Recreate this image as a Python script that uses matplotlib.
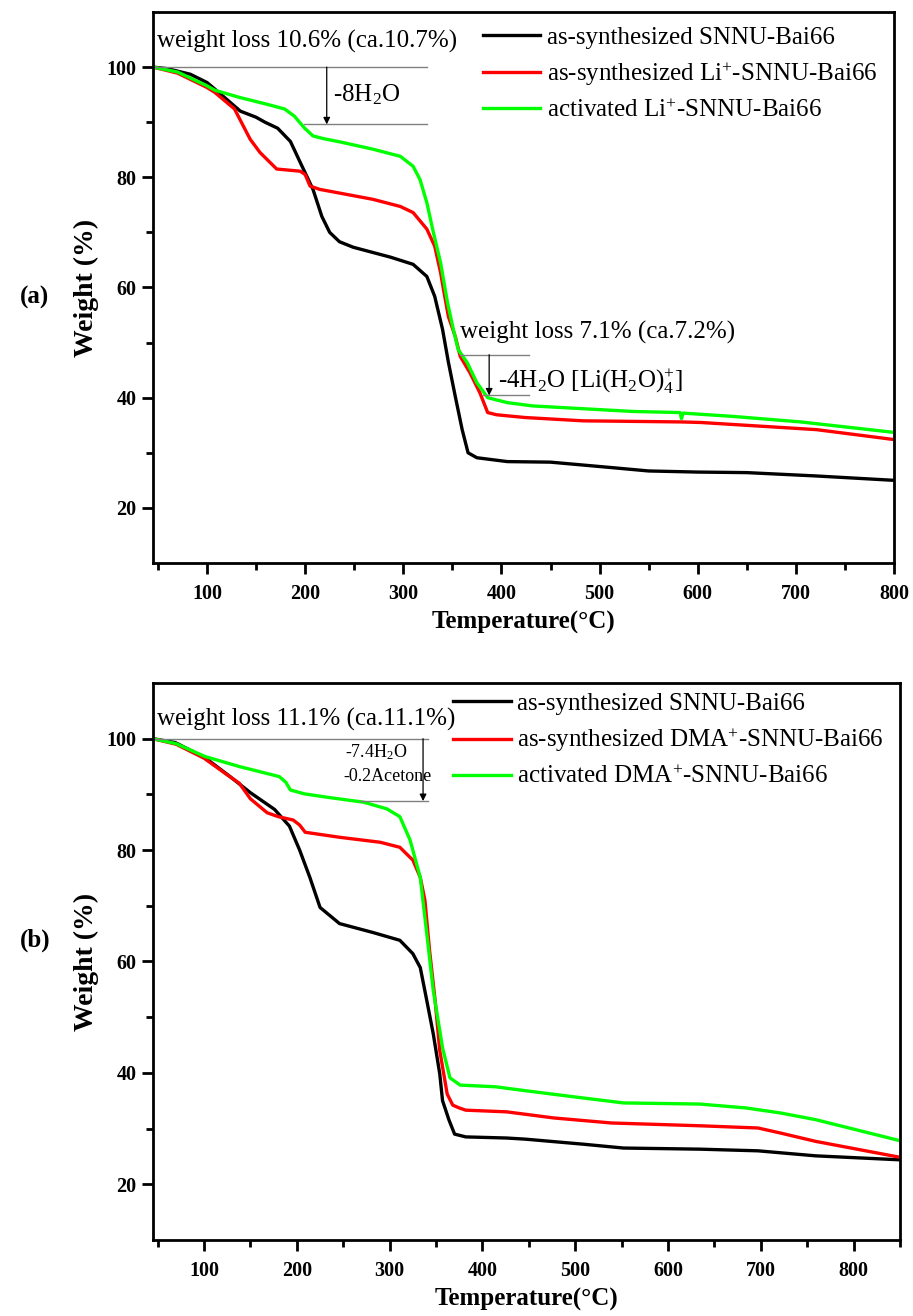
"""
TGA curves of SNNU-Bai66 samples, (a) Li+ exchange and (b) DMA+ exchange.
"""

import matplotlib
matplotlib.use('Agg')
import matplotlib.pyplot as plt

plt.rcParams['font.family'] = ['Liberation Serif', 'DejaVu Serif']
plt.rcParams['mathtext.fontset'] = 'custom'
plt.rcParams['mathtext.rm'] = 'Liberation Serif'
plt.rcParams['mathtext.default'] = 'regular'

# ---- panel (a) data (T in degC, weight in %) ----
A_BLACK_T = [45, 60, 83, 100, 108, 134, 150, 159, 172, 185, 195, 208, 217, 225, 235, 249, 287, 310,
             324, 332, 340, 346, 353, 360, 366, 375, 406, 450, 513, 550, 600, 650, 720, 800]
A_BLACK_W = [100, 99.7, 98.7, 97.2, 96.0, 92.0, 90.9, 90.0, 88.9, 86.5, 82.7, 77.8, 72.9, 70.0, 68.3,
             67.3, 65.5, 64.2, 62.0, 58.4, 52.4, 46.4, 40.2, 34.2, 30.0, 29.1, 28.4, 28.3, 27.3,
             26.7, 26.5, 26.4, 25.8, 25.0]

A_RED_T = [45, 70, 100, 108, 128, 144, 154, 171, 195, 200, 205, 215, 269, 297, 310, 324, 332,
           338, 341, 346, 353, 358, 368, 378, 386, 395, 424, 483, 583, 603, 721, 800]
A_RED_W = [100, 98.9, 96.3, 95.4, 92.4, 86.9, 84.5, 81.5, 81.1, 80.5, 78.4, 77.8, 76.0, 74.7,
           73.6, 70.6, 67.5, 62.7, 59.6, 54.7, 51.1, 47.5, 44.5, 40.9, 37.3, 36.9, 36.4, 35.8,
           35.6, 35.5, 34.2, 32.4]

A_GREEN_T = [45, 70, 100, 108, 133, 160, 179, 189, 199, 208, 219, 236, 269, 297, 310, 317, 324,
             330, 338, 345, 351, 356, 365, 375, 386, 406, 432, 534, 582, 583.5, 585, 636, 705, 800]
A_GREEN_W = [100, 99.1, 96.6, 95.8, 94.5, 93.3, 92.4, 91.1, 89.0, 87.5, 87.0, 86.4, 85.1, 83.8,
             82.0, 79.6, 75.4, 70.5, 64.5, 57.3, 52.4, 48.7, 46.4, 42.7, 40.0, 39.1, 38.5, 37.5,
             37.3, 36.2, 37.2, 36.6, 35.6, 33.7]

# ---- panel (b) data ----
B_BLACK_T = [45, 69, 101, 128, 150, 176, 192, 203, 214, 225, 246, 282, 311, 325, 333, 340, 347,
             354, 357, 364, 370, 382, 426, 446, 508, 552, 634, 697, 759, 848]
B_BLACK_W = [100, 99.3, 96.6, 93.2, 90.3, 87.3, 84.3, 80.0, 75.1, 69.7, 66.8, 65.2, 63.8, 61.4,
             58.9, 53.0, 47.0, 39.8, 35.0, 31.5, 29.0, 28.5, 28.3, 28.1, 27.2, 26.5, 26.3, 26.0,
             25.1, 24.4]

B_RED_T = [45, 70, 100, 125, 138, 150, 168, 180, 196, 203, 209, 246, 290, 311, 325, 333, 338,
           343, 349, 354, 362, 368, 375, 382, 426, 477, 539, 634, 697, 721, 759, 848]
B_RED_W = [100, 99.0, 96.5, 93.5, 92.0, 89.2, 86.7, 86.0, 85.4, 84.5, 83.2, 82.3, 81.4, 80.5,
           78.2, 75.1, 71.0, 62.0, 53.0, 44.0, 36.2, 34.2, 33.7, 33.3, 33.0, 31.9, 31.0, 30.5,
           30.1, 29.2, 27.7, 24.9]

B_GREEN_T = [45, 70, 101, 138, 181, 188, 193, 208, 232, 272, 297, 311, 322, 333, 340, 347, 357,
             365, 376, 414, 446, 508, 552, 634, 684, 721, 759, 848]
B_GREEN_W = [100, 99.1, 96.8, 95.0, 93.2, 92.2, 90.8, 90.1, 89.5, 88.6, 87.4, 86.0, 81.8, 75.1,
             65.0, 54.8, 44.5, 39.1, 37.8, 37.5, 36.8, 35.5, 34.6, 34.4, 33.7, 32.8, 31.6, 27.9]

LABELS_A = ['as-synthesized SNNU-Bai66',
            'as-synthesized Li$^{+}$-SNNU-Bai66',
            'activated Li$^{+}$-SNNU-Bai66']
LABELS_B = ['as-synthesized SNNU-Bai66',
            'as-synthesized DMA$^{+}$-SNNU-Bai66',
            'activated DMA$^{+}$-SNNU-Bai66']

COLORS = ['#000000', '#ff0000', '#00ff00']
LW = 2.4
FS = 18


def style_axes(ax, xmax, xticks):
    ax.set_xlim(45, xmax)
    ax.set_ylim(10, 110)
    ax.set_xticks(xticks)
    ax.set_xticks([t + 50 for t in [0] + xticks if t + 50 <= xmax], minor=True)
    ax.set_yticks([20, 40, 60, 80, 100])
    ax.set_yticks([30, 50, 70, 90], minor=True)
    for s in ax.spines.values():
        s.set_linewidth(2.0)
    ax.tick_params(which='major', direction='out', length=8, width=2.0, labelsize=14.5)
    ax.tick_params(which='minor', direction='out', length=5, width=2.0)
    ax.tick_params(axis='x', pad=7)
    ax.tick_params(axis='y', pad=4)
    for lb in ax.get_xticklabels() + ax.get_yticklabels():
        lb.set_fontweight('bold')
    ax.set_xlabel('Temperature(°C)', fontsize=18, fontweight='bold', labelpad=5)
    ax.set_ylabel('Weight (%)', fontsize=20, fontweight='bold', labelpad=5)


def draw_arrow(ax, x, y0, y1):
    ax.annotate('', xy=(x, y1), xytext=(x, y0),
                arrowprops=dict(arrowstyle='-|>', color='black', lw=0.9,
                                mutation_scale=10, shrinkA=0, shrinkB=0))


fig = plt.figure(figsize=(9.13, 13.16), dpi=100)

# ---------------- panel (a) ----------------
ax1 = fig.add_axes([0.1676, 0.5722, 0.8116, 0.4187])
ax1.plot(A_BLACK_T, A_BLACK_W, color=COLORS[0], lw=LW, label=LABELS_A[0], solid_joinstyle='round')
ax1.plot(A_RED_T, A_RED_W, color=COLORS[1], lw=LW, label=LABELS_A[1], solid_joinstyle='round')
ax1.plot(A_GREEN_T, A_GREEN_W, color=COLORS[2], lw=LW, label=LABELS_A[2], solid_joinstyle='round')
style_axes(ax1, 800, [100, 200, 300, 400, 500, 600, 700, 800])

ax1.legend(loc='upper left', bbox_to_anchor=(0.445, 0.974), frameon=False, fontsize=FS,
           handlelength=2.3, handletextpad=0.25, labelspacing=0.45, borderpad=0, borderaxespad=0)

# first step annotation
ax1.plot([45, 324], [100, 100], color='gray', lw=1.0)
ax1.plot([199, 324], [89.6, 89.6], color='gray', lw=1.0)
draw_arrow(ax1, 222, 100, 89.6)
ax1.text(49, 104.7, 'weight loss 10.6% (ca.10.7%)', fontsize=FS, va='center', ha='left')
ax1.text(228, 94.9, '-8H$_2$O', fontsize=FS, va='center', ha='left')

# second step annotation
ax1.plot([358, 428], [47.8, 47.8], color='gray', lw=1.0)
ax1.plot([381, 428], [40.4, 40.4], color='gray', lw=1.0)
draw_arrow(ax1, 387.5, 47.8, 40.4)
ax1.text(358, 51.8, 'weight loss 7.1% (ca.7.2%)', fontsize=FS, va='center', ha='left')
ax1.text(397, 43.0, '-4H$_2$O [Li(H$_2$O)$_4^{+}$]', fontsize=FS, va='center', ha='left')

fig.text(0.022, 1 - 297 / 1316, '(a)', fontsize=18, fontweight='bold', va='center')

# ---------------- panel (b) ----------------
ax2 = fig.add_axes([0.1676, 0.0578, 0.8182, 0.4232])
ax2.plot(B_BLACK_T, B_BLACK_W, color=COLORS[0], lw=LW, label=LABELS_B[0], solid_joinstyle='round')
ax2.plot(B_RED_T, B_RED_W, color=COLORS[1], lw=LW, label=LABELS_B[1], solid_joinstyle='round')
ax2.plot(B_GREEN_T, B_GREEN_W, color=COLORS[2], lw=LW, label=LABELS_B[2], solid_joinstyle='round')
style_axes(ax2, 850, [100, 200, 300, 400, 500, 600, 700, 800])

ax2.legend(loc='upper left', bbox_to_anchor=(0.402, 0.9826), frameon=False, fontsize=FS,
           handlelength=2.3, handletextpad=0.25, labelspacing=0.45, borderpad=0, borderaxespad=0)

ax2.plot([45, 341], [100, 100], color='gray', lw=1.0)
ax2.plot([268, 341], [88.8, 88.8], color='gray', lw=1.0)
draw_arrow(ax2, 336, 100, 88.8)
ax2.text(49, 103.4, 'weight loss 11.1% (ca.11.1%)', fontsize=FS, va='center', ha='left')
ax2.text(252, 97.6, '-7.4H$_2$O', fontsize=13, va='center', ha='left')
ax2.text(250, 93.3, '-0.2Acetone', fontsize=13, va='center', ha='left')

fig.text(0.022, 1 - 940 / 1316, '(b)', fontsize=18, fontweight='bold', va='center')

fig.savefig('out.png', dpi=100)
